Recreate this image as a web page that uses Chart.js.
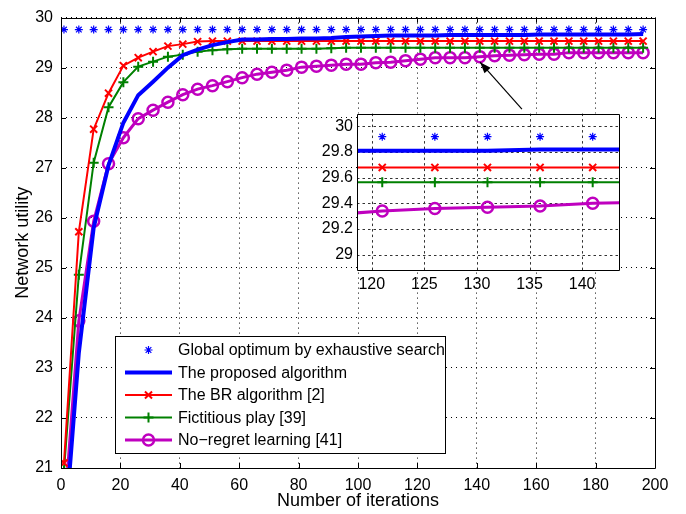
<!DOCTYPE html>
<html>
<head>
<meta charset="utf-8">
<script src="https://cdn.jsdelivr.net/npm/chart.js@4.4.1/dist/chart.umd.min.js"></script>
<style>
  body { margin: 0; background: #fff; }
  #wrap { position: relative; width: 686px; height: 514px; }
  #main { position: absolute; left: 0; top: 0; }
  #inset { position: absolute; left: 317px; top: 100px; }
</style>
</head>
<body>
<div id="wrap">
  <canvas id="main" width="686" height="514"></canvas>
  <canvas id="inset" width="316" height="195"></canvas>
</div>
<script>
// series labels
const labels = [
  'Global optimum by exhaustive search',
  'The proposed algorithm',
  'The BR algorithm [2]',
  'Fictitious play [39]',
  'No\u2212regret learning [41]'
];

// main plot: iterations where the values were read
const iterations = [1, 6, 11, 16, 21, 26, 31, 36, 41, 46, 51, 56, 61, 66, 71, 76, 81, 86, 91, 96,
  101, 106, 111, 116, 121, 126, 131, 136, 141, 146, 151, 156, 161, 166, 171, 176, 181, 186, 191, 196];
const globalOptimum = [29.76, 29.76, 29.76, 29.76, 29.76, 29.76, 29.76, 29.76, 29.76, 29.76,
  29.76, 29.76, 29.76, 29.76, 29.76, 29.76, 29.76, 29.76, 29.76, 29.76,
  29.76, 29.76, 29.76, 29.76, 29.76, 29.76, 29.76, 29.76, 29.76, 29.76,
  29.76, 29.76, 29.76, 29.76, 29.76, 29.76, 29.76, 29.76, 29.76, 29.76];
const proposed = [19.5, 23.3, 25.8, 27.05, 27.9, 28.45, 28.72, 29.0, 29.25, 29.36,
  29.45, 29.51, 29.56, 29.56, 29.57, 29.57, 29.58, 29.58, 29.59, 29.61,
  29.62, 29.63, 29.64, 29.64, 29.64, 29.64, 29.65, 29.65, 29.65, 29.65,
  29.65, 29.65, 29.66, 29.66, 29.66, 29.66, 29.66, 29.66, 29.66, 29.67];
const brAlgorithm = [21.1, 25.72, 27.77, 28.49, 29.04, 29.2, 29.32, 29.43, 29.47, 29.52,
  29.53, 29.53, 29.53, 29.53, 29.53, 29.53, 29.53, 29.53, 29.53, 29.53,
  29.53, 29.53, 29.53, 29.53, 29.53, 29.53, 29.53, 29.53, 29.53, 29.53,
  29.53, 29.53, 29.53, 29.53, 29.53, 29.53, 29.53, 29.53, 29.53, 29.53];
const fictitious = [20.95, 24.86, 27.1, 28.21, 28.71, 29.02, 29.12, 29.22, 29.26, 29.32,
  29.35, 29.37, 29.38, 29.38, 29.38, 29.38, 29.38, 29.38, 29.39, 29.4,
  29.4, 29.4, 29.4, 29.4, 29.4, 29.4, 29.4, 29.4, 29.4, 29.4,
  29.4, 29.4, 29.4, 29.4, 29.4, 29.4, 29.4, 29.4, 29.4, 29.4];
const noRegret = [20.0, 23.94, 25.93, 27.08, 27.6, 27.98, 28.15, 28.31, 28.46, 28.57,
  28.64, 28.72, 28.8, 28.87, 28.91, 28.95, 29.01, 29.03, 29.05, 29.07,
  29.07, 29.1, 29.11, 29.14, 29.17, 29.2, 29.2, 29.2, 29.22, 29.24,
  29.25, 29.26, 29.27, 29.27, 29.3, 29.3, 29.3, 29.3, 29.3, 29.3];
const xTicks = [0, 20, 40, 60, 80, 100, 120, 140, 160, 180, 200];
const yTicks = [21, 22, 23, 24, 25, 26, 27, 28, 29, 30];

// inset (zoomed view)
const insetIterations = [116, 121, 126, 131, 136, 141, 146];
const insetOptimum = [29.92, 29.92, 29.92, 29.92, 29.92, 29.92, 29.92];
const insetProposed = [29.81, 29.81, 29.81, 29.81, 29.82, 29.82, 29.82];
const insetBR = [29.68, 29.68, 29.68, 29.68, 29.68, 29.68, 29.68];
const insetFictitious = [29.565, 29.565, 29.565, 29.565, 29.565, 29.565, 29.565];
const insetNoRegret = [29.31, 29.34, 29.36, 29.37, 29.38, 29.4, 29.41];
const insetXTicks = [120, 125, 130, 135, 140];
const insetYTicks = [29, 29.2, 29.4, 29.6, 29.8, 30];

// arrow from inset to the curve (data coords)
const arrowTail = [155.2, 28.17];
const arrowHead = [141.1, 29.11];

const FONT = "'Liberation Sans', Arial, Helvetica, sans-serif";
Chart.defaults.font.family = FONT;
Chart.defaults.color = '#000';

function series(xs, ys) { return xs.map((x, i) => ({x: x, y: ys[i]})); }

function makeDatasets(xs, opt, prop, br, fict, nr) {
  return [
    {label: labels[0], data: series(xs, opt), showLine: false, pointStyle: 'star', pointRadius: 4,
      pointBorderWidth: 1.2, pointBorderColor: '#0000ff', pointBackgroundColor: '#0000ff', borderColor: '#0000ff'},
    {label: labels[1], data: series(xs, prop), borderColor: '#0000ff', borderWidth: 4, pointRadius: 0},
    {label: labels[2], data: series(xs, br), borderColor: '#ff0000', borderWidth: 2, pointStyle: 'crossRot',
      pointRadius: 5, pointBorderWidth: 2, pointBorderColor: '#ff0000'},
    {label: labels[3], data: series(xs, fict), borderColor: '#008000', borderWidth: 2, pointStyle: 'cross',
      pointRadius: 5, pointBorderWidth: 2, pointBorderColor: '#008000'},
    {label: labels[4], data: series(xs, nr), borderColor: '#bf00bf', borderWidth: 3, pointStyle: 'circle',
      pointRadius: 5.5, pointBorderWidth: 2.5, pointBorderColor: '#bf00bf', pointBackgroundColor: 'rgba(0,0,0,0)'}
  ];
}

function drawMarker(ctx, ds, x, y) {
  ctx.strokeStyle = ds.pointBorderColor || ds.borderColor;
  ctx.fillStyle = ds.pointBackgroundColor || 'rgba(0,0,0,0)';
  ctx.lineWidth = ds.pointBorderWidth || 1;
  Chart.helpers.drawPoint(ctx, {pointStyle: ds.pointStyle, radius: ds.pointRadius, borderWidth: ctx.lineWidth, rotation: 0}, x, y);
}

// box round the axes with inward tick marks (matlab style)
const axesBox = {
  id: 'axesBox',
  afterDatasetsDraw(chart, args, o) {
    const {ctx, chartArea: a, scales: {x, y}} = chart;
    ctx.save();
    ctx.strokeStyle = '#000';
    ctx.lineWidth = 1;
    ctx.beginPath();
    if (o.len) {
      x.ticks.forEach(t => {
        const px = Math.round(x.getPixelForValue(t.value)) + 0.5;
        ctx.moveTo(px, a.bottom); ctx.lineTo(px, a.bottom - o.len);
        ctx.moveTo(px, a.top); ctx.lineTo(px, a.top + o.len);
      });
      y.ticks.forEach(t => {
        const py = Math.round(y.getPixelForValue(t.value)) + 0.5;
        ctx.moveTo(a.left, py); ctx.lineTo(a.left + o.len, py);
        ctx.moveTo(a.right, py); ctx.lineTo(a.right - o.len, py);
      });
    }
    ctx.rect(Math.round(a.left) + 0.5, Math.round(a.top) + 0.5, Math.round(a.right - a.left), Math.round(a.bottom - a.top));
    ctx.stroke();
    ctx.restore();
  }
};

const arrow = {
  id: 'arrow',
  afterDatasetsDraw(chart) {
    const {ctx, scales: {x, y}} = chart;
    const x0 = x.getPixelForValue(arrowTail[0]), y0 = y.getPixelForValue(arrowTail[1]);
    const x1 = x.getPixelForValue(arrowHead[0]), y1 = y.getPixelForValue(arrowHead[1]);
    const ang = Math.atan2(y1 - y0, x1 - x0);
    ctx.save();
    ctx.strokeStyle = '#000';
    ctx.fillStyle = '#000';
    ctx.lineWidth = 1.2;
    ctx.beginPath();
    ctx.moveTo(x0, y0); ctx.lineTo(x1, y1);
    ctx.stroke();
    ctx.beginPath();
    ctx.moveTo(x1, y1);
    ctx.lineTo(x1 - 12 * Math.cos(ang - 0.35), y1 - 12 * Math.sin(ang - 0.35));
    ctx.lineTo(x1 - 12 * Math.cos(ang + 0.35), y1 - 12 * Math.sin(ang + 0.35));
    ctx.closePath();
    ctx.fill();
    ctx.restore();
  }
};

const legendBox = {
  id: 'legendBox',
  afterDraw(chart, args, o) {
    const ctx = chart.ctx;
    ctx.save();
    ctx.fillStyle = '#fff';
    ctx.fillRect(o.left, o.top, o.width, o.height);
    ctx.strokeStyle = '#000';
    ctx.lineWidth = 1;
    ctx.strokeRect(o.left + 0.5, o.top + 0.5, o.width, o.height);
    ctx.font = '16px ' + FONT;
    ctx.textBaseline = 'middle';
    chart.data.datasets.forEach((ds, i) => {
      const yy = o.top + o.firstRow + i * o.rowGap;
      const x0 = o.left + 10, x1 = x0 + 47;
      if (ds.showLine !== false) {
        ctx.strokeStyle = ds.borderColor;
        ctx.lineWidth = ds.borderWidth;
        ctx.beginPath(); ctx.moveTo(x0, yy); ctx.lineTo(x1, yy); ctx.stroke();
      }
      if (ds.pointRadius > 0) drawMarker(ctx, ds, (x0 + x1) / 2, yy);
      ctx.fillStyle = '#000';
      ctx.fillText(ds.label, x1 + 6, yy + 1);
    });
    ctx.restore();
  }
};

// white plot background for the inset, then its dotted grid from the scale ticks
const insetBack = {
  id: 'insetBack',
  beforeDatasetsDraw(chart) {
    const {ctx, chartArea: a, scales: {x, y}} = chart;
    ctx.save();
    ctx.fillStyle = '#fff';
    ctx.fillRect(a.left, a.top, a.right - a.left, a.bottom - a.top);
    ctx.strokeStyle = '#333';
    ctx.lineWidth = 1;
    ctx.setLineDash([2.5, 3]);
    ctx.beginPath();
    x.ticks.forEach(t => {
      const px = Math.round(x.getPixelForValue(t.value)) + 0.5;
      ctx.moveTo(px, a.top); ctx.lineTo(px, a.bottom);
    });
    y.ticks.forEach(t => {
      const py = Math.round(y.getPixelForValue(t.value)) + 0.5;
      ctx.moveTo(a.left, py); ctx.lineTo(a.right, py);
    });
    ctx.stroke();
    ctx.restore();
  }
};

function gridAxis(min, max, ticks, size, pad, font) {
  return {
    type: 'linear', min: min, max: max,
    afterBuildTicks: s => { s.ticks = ticks.map(v => ({value: v})); },
    afterFit: s => { if (s.isHorizontal()) s.height = size; else s.width = size; },
    grid: {color: '#000', lineWidth: 1, drawTicks: false},
    border: {display: false, dash: [1, 4]},
    ticks: {padding: pad, font: {size: font}, color: '#000', maxRotation: 0, autoSkip: false,
      callback: v => String(Math.round(v * 10) / 10)}
  };
}

const mainX = gridAxis(0, 200, xTicks, 46, 8, 16);
mainX.title = {display: true, text: 'Number of iterations', font: {size: 18}, padding: {top: 0, bottom: 2}};
const mainY = gridAxis(21, 30, yTicks, 61, 8, 16);
mainY.title = {display: true, text: 'Network utility', font: {size: 18}, padding: {top: 12, bottom: 0}};

new Chart(document.getElementById('main'), {
  type: 'line',
  data: {datasets: makeDatasets(iterations, globalOptimum, proposed, brAlgorithm, fictitious, noRegret)},
  options: {
    responsive: false,
    animation: false,
    layout: {padding: {top: 12, right: 31, left: 0, bottom: 0}},
    elements: {line: {tension: 0}},
    scales: {x: mainX, y: mainY},
    plugins: {
      legend: {display: false},
      tooltip: {enabled: false},
      axesBox: {len: 5},
      legendBox: {left: 115, top: 336, width: 330, height: 117, firstRow: 14, rowGap: 22.5}
    }
  },
  plugins: [axesBox, arrow, legendBox]
});

const insetX = gridAxis(118.6, 143.5, insetXTicks, 25, 5, 16);
const insetY = gridAxis(28.88, 30.1, insetYTicks, 40, 4, 16);
insetX.grid.drawOnChartArea = false;
insetY.grid.drawOnChartArea = false;

new Chart(document.getElementById('inset'), {
  type: 'line',
  data: {datasets: makeDatasets(insetIterations, insetOptimum, insetProposed, insetBR, insetFictitious, insetNoRegret)},
  options: {
    responsive: false,
    animation: false,
    layout: {padding: {top: 5, right: 14, left: 0, bottom: 0}},
    elements: {line: {tension: 0}},
    scales: {x: insetX, y: insetY},
    plugins: {
      legend: {display: false},
      tooltip: {enabled: false},
      axesBox: {len: 0}
    }
  },
  plugins: [insetBack, axesBox]
});
</script>
</body>
</html>
